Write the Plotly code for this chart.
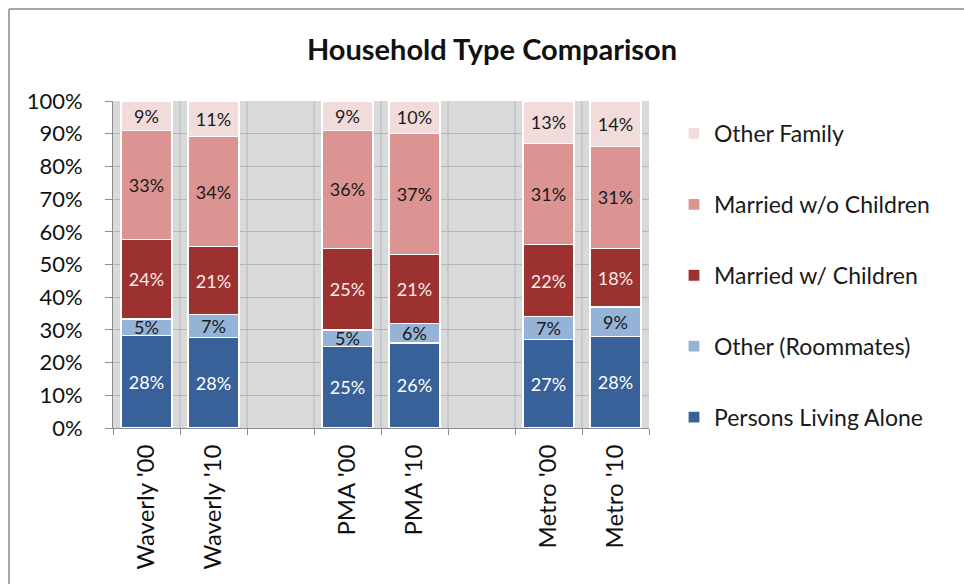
import plotly.graph_objects as go

categories = ["Waverly '00", "Waverly '10", " ", "PMA '00", "PMA '10", "  ", "Metro '00", "Metro '10"]
persons_alone = [28, 28, None, 25, 26, None, 27, 28]
roommates = [5, 7, None, 5, 6, None, 7, 9]
married_kids = [24, 21, None, 25, 21, None, 22, 18]
married_nokids = [33, 34, None, 36, 37, None, 31, 31]
other_family = [9, 11, None, 9, 10, None, 13, 14]

series = [
    ("Persons Living Alone", persons_alone, "#376198", "white"),
    ("Other (Roommates)", roommates, "#95b3d7", "#1a1a1a"),
    ("Married w/ Children", married_kids, "#9c3230", "#fbeaea"),
    ("Married w/o Children", married_nokids, "#dc9492", "#1a1a1a"),
    ("Other Family", other_family, "#f2dcdb", "#1a1a1a"),
]

FONT = "Lato"
fig = go.Figure()
n = len(series)
for i, (name, vals, color, tcol) in enumerate(series):
    fig.add_trace(go.Bar(
        x=categories, y=vals, name=name, legendgroup=str(i), legendrank=1000 + (n - i),
        marker=dict(color=color, line=dict(color="white", width=1.2)),
        text=[f"{v}%" if v is not None else "" for v in vals],
        textposition="inside", insidetextanchor="middle", textangle=0,
        textfont=dict(color=tcol, size=18, family=FONT),
        cliponaxis=False, hoverinfo="skip",
    ))

W, H = 964, 584
L, R, T, B = 113, 964 - 649, 101, 584 - 428
PW, PH = W - L - R, 428 - 101
fig.update_layout(
    width=W, height=H,
    barmode="stack", barnorm="percent", bargap=0.24,
    margin=dict(l=L, r=R, t=T, b=B),
    paper_bgcolor="white", plot_bgcolor="#d9d9d9",
    font=dict(family=FONT, color="#1a1a1a"),
    uniformtext=dict(minsize=18, mode="show"),
    title=dict(text="<b>Household Type Comparison</b>", x=492 / W, xanchor="center",
               y=1 - 50 / H, yanchor="middle", font=dict(size=29, family=FONT, color="#111")),
    legend=dict(x=(674 - L) / PW, xanchor="left", y=1 + (101 - 112) / PH, yanchor="top",
                traceorder="grouped", tracegroupgap=38,
                font=dict(size=23, family=FONT, color="#1a1a1a"), bgcolor="rgba(0,0,0,0)"),
    xaxis=dict(tickson="boundaries", showgrid=True, gridcolor="#c5c9cd", gridwidth=2,
               ticks="outside", ticklen=6, tickcolor="#8c8c8c", showline=True, linecolor="#8c8c8c",
               linewidth=1, tickangle=-90, ticklabelstandoff=6,
               tickfont=dict(size=24, family=FONT, color="#111")),
    yaxis=dict(range=[0, 100.001], tickvals=list(range(0, 101, 10)),
               ticktext=[f"{v}%" for v in range(0, 101, 10)], showgrid=True, gridcolor="#b5b5b5",
               gridwidth=1, ticks="outside", ticklen=7, tickcolor="#8c8c8c", showline=True,
               linecolor="#8c8c8c", linewidth=1, ticklabelstandoff=18,
               tickfont=dict(size=22, family=FONT, color="#111"), zeroline=False),
    shapes=[
        dict(type="line", xref="paper", yref="paper", x0=(9 - L) / PW, x1=(W + 20 - L) / PW,
             y0=1 + (101 - 9) / PH, y1=1 + (101 - 9) / PH, line=dict(color="#a6a6a6", width=2)),
        dict(type="line", xref="paper", yref="paper", x0=(9 - L) / PW, x1=(9 - L) / PW,
             y0=1 + (101 - 9) / PH, y1=-(H + 20 - 428) / PH, line=dict(color="#a6a6a6", width=2)),
    ],
)
fig.write_html("out.html")
